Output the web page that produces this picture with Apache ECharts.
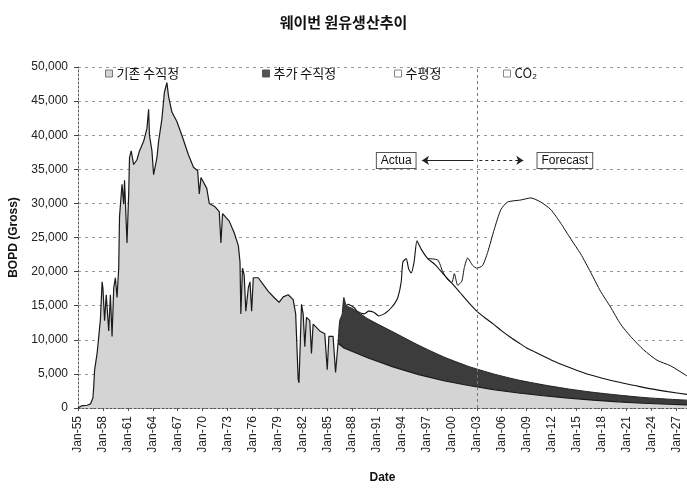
<!DOCTYPE html>
<html><head><meta charset="utf-8">
<script src="https://cdn.jsdelivr.net/npm/echarts/dist/echarts.min.js"></script>
<style>html,body{margin:0;padding:0;background:#fff}#c{width:687px;height:489px}</style>
</head><body><div id="c"></div>
<script>
// ---------- data ----------
const BASE_YEAR = 1955;
const xTickLabels = ['Jan-55','Jan-58','Jan-61','Jan-64','Jan-67','Jan-70','Jan-73','Jan-76','Jan-79',
  'Jan-82','Jan-85','Jan-88','Jan-91','Jan-94','Jan-97','Jan-00','Jan-03','Jan-06','Jan-09',
  'Jan-12','Jan-15','Jan-18','Jan-21','Jan-24','Jan-27'];
const seriesNames = ['기존 수직정', '추가 수직정', '수평정', 'CO₂'];

// 기존 수직정 (existing vertical wells), BOPD
const baseYears = [1955.0,1955.4,1956.1,1956.5,1956.8,1956.9,1957.0,1957.3,1957.5,1957.7,1957.9,1958.0,1958.2,1958.4,1958.7,1958.9,
  1959.1,1959.3,1959.5,1959.7,1959.9,1960.0,1960.3,1960.5,1960.6,1960.9,1961.1,1961.2,1961.4,1961.7,1962.1,1962.4,1962.9,
  1963.3,1963.5,1963.6,1963.9,1964.1,1964.3,1964.5,1964.7,1965.1,1965.4,1965.7,1965.9,1966.3,1966.9,1967.5,1968.3,1968.9,
  1969.4,1969.6,1969.8,1970.5,1970.8,1971.5,1972.0,1972.2,1972.4,1973.2,1973.8,1974.3,1974.5,1974.6,1974.8,1975.0,1975.2,
  1975.5,1975.7,1975.9,1976.1,1976.7,1977.3,1977.9,1978.6,1979.2,1979.7,1980.3,1980.9,1981.2,1981.5,1981.6,1981.9,1982.1,
  1982.3,1982.5,1982.9,1983.1,1983.3,1984.1,1984.7,1985.0,1985.2,1985.7,1986.0,1986.3,1987.0,1990.0,1993.0,1996.0,1999.0,
  2002.0,2005.0,2008.0,2011.0,2014.0,2017.0,2020.0,2023.0,2026.0,2028.3];
const baseValues = [0,300,400,600,1500,3300,5600,8000,10500,13000,18500,17600,12800,16600,11300,16600,
  10500,17600,19100,16200,20500,28100,32800,29900,33400,24200,31400,36700,37700,35700,36400,37700,39100,
  41000,43800,40000,37700,34200,34200,36700,39100,42400,46300,47700,45700,43400,42000,40000,37100,35300,
  34800,31400,33800,32200,30000,29500,28800,24200,28500,27400,25700,23800,21400,13800,20500,19500,14200,
  17600,18500,14200,19100,19100,18100,17100,16200,15500,16300,16600,15900,13800,4200,3700,15200,13800,
  9000,13300,12800,8000,12300,11300,10900,5600,10500,10500,5200,9500,8800,7300,6000,4900,4000,
  3300,2700,2200,1800,1450,1150,900,700,550,450];

// cumulative top: 기존 + 추가 수직정
const infillYears = [1986.3,1986.5,1986.8,1987.0,1987.3,1988.0,1990.0,1993.0,1996.0,1999.0,2002.0,2005.0,2008.0,
  2011.0,2014.0,2017.0,2020.0,2023.0,2026.0,2028.3];
const infillTop = [9500,12800,13800,16200,15000,14600,13000,11100,9200,7500,6100,5000,4100,
  3400,2800,2300,1900,1550,1300,1150];

// cumulative top: 기존 + 추가 + 수평정
const horizYears = [1987.3,1987.5,1988.25,1988.6,1989.45,1990.0,1990.65,1991.2,1991.85,1992.3,1992.7,1993.1,1993.5,
  1993.9,1994.1,1994.5,1994.8,1995.1,1995.45,1995.8,1996.3,1997.1,1998.0,1999.0,2000.0,2001.0,2002.0,2003.0,
  2004.0,2005.0,2006.0,2007.0,2008.0,2009.0,2010.0,2012.0,2014.0,2016.0,2018.0,2020.0,2022.0,2024.0,2026.0,2028.3];
const horizTop = [15000,15200,14700,14200,13800,14200,14000,13500,13800,14200,14700,15300,16200,
  18500,21400,21900,20400,19800,21400,24500,23300,21900,21000,19600,18300,16900,15500,14200,
  13200,12300,11300,10400,9600,8800,8200,7000,6000,5100,4400,3800,3300,2800,2400,2000];

// cumulative top: total incl. CO₂
const co2Years = [1997.1,1998.3,1998.9,1999.5,2000.0,2000.3,2000.7,2001.2,2001.5,2001.9,2002.5,2003.0,2003.7,
  2004.3,2005.1,2005.9,2006.7,2008.3,2009.5,2010.7,2011.9,2013.1,2014.3,2015.5,2016.7,2017.9,2019.1,
  2020.3,2021.5,2023.1,2024.7,2026.3,2028.3];
const co2Top = [21900,21700,20000,18800,18400,19700,18000,18600,20600,22000,20900,20500,20900,
  22800,26200,29100,30200,30500,30800,30200,29100,27100,24800,22600,19900,17100,14800,
  12300,10500,8500,7000,6200,4700];

// annotations
const forecastStartYear = 2003;
const arrowLevel = 36300;
const actualArrow = [2002.6, 1996.4];
const forecastArrow = [2003.3, 2008.6];
const annotationLabels = [{text:'Actua', year:1993.3}, {text:'Forecast', year:2013.6}];

// ---------- chart ----------
const toPairs = (yrs, vals) => yrs.map((y, i) => [y - BASE_YEAR, vals[i]]);
const FONT = "'Liberation Sans', 'Noto Sans CJK KR', Arial, sans-serif";
const KFONT = "'Noto Sans CJK KR', 'Liberation Sans', sans-serif";

const chart = echarts.init(document.getElementById('c'), null, {renderer: 'canvas'});
const legendIcon = [
  {color:'#d4d4d4', borderColor:'#777', borderWidth:1},
  {color:'#555', borderColor:'#555', borderWidth:1},
  {color:'#fff', borderColor:'#888', borderWidth:1},
  {color:'#fff', borderColor:'#888', borderWidth:1}
];
const legendLeft = [100, 257, 389, 498];

const option = {
  animation: false,
  backgroundColor: '#fff',
  title: {
    text: '웨이번 원유생산추이', left: 'center', top: 10,
    textStyle: {fontFamily: KFONT, fontSize: 15, fontWeight: 'bold', color: '#111'}
  },
  legend: seriesNames.map((n, i) => ({
    data: [{name: n, itemStyle: legendIcon[i]}],
    left: legendLeft[i], top: 62, icon: 'rect', itemWidth: 7, itemHeight: 7, itemGap: 5,
    selectedMode: false,
    textStyle: {fontFamily: KFONT, fontSize: 13, color: '#111', padding: [0, 0, 0, -1]}
  })),
  grid: {left: 76, right: 0, top: 67, bottom: 73, containLabel: false},
  xAxis: {
    type: 'value', min: 0, max: 73.3, interval: 3,
    name: 'Date', nameLocation: 'middle', nameGap: 64,
    nameTextStyle: {fontFamily: FONT, fontSize: 12, fontWeight: 'bold', color: '#111'},
    axisLine: {show: true, lineStyle: {color: '#555', width: 1, type: [2, 2]}},
    axisTick: {show: true, length: 3, lineStyle: {color: '#555'}},
    splitLine: {show: false},
    axisLabel: {
      rotate: 90, margin: 8, fontFamily: FONT, fontSize: 12, color: '#222',
      showMaxLabel: false,
      formatter: v => {
        const k = Math.round(v / 3);
        return Math.abs(v - k * 3) < 1e-6 && xTickLabels[k] ? xTickLabels[k] : '';
      }
    }
  },
  yAxis: {
    type: 'value', min: 0, max: 50000, interval: 5000,
    name: 'BOPD (Gross)', nameLocation: 'middle', nameGap: 58, nameRotate: 90,
    nameTextStyle: {fontFamily: FONT, fontSize: 12, fontWeight: 'bold', color: '#111'},
    axisLine: {show: true, lineStyle: {color: '#555', width: 1, type: [2, 2]}},
    axisTick: {show: true, length: 4, lineStyle: {color: '#444'}},
    splitLine: {show: true, lineStyle: {color: '#999', width: 1, type: [3, 4]}},
    axisLabel: {
      margin: 10, fontFamily: FONT, fontSize: 12, color: '#222',
      formatter: v => String(v).replace(/\B(?=(\d{3})+(?!\d))/g, ',')
    }
  },
  series: [
    {
      name: seriesNames[3], type: 'line', data: toPairs(co2Years, co2Top),
      showSymbol: false, symbol: 'none', smooth: 0.2, color: '#fff',
      lineStyle: {color: '#111', width: 1},
      areaStyle: {color: '#fff', opacity: 1},
      markLine: {
        silent: true, symbol: ['none', 'arrow'], symbolSize: 7,
        label: {show: false},
        lineStyle: {color: '#222', width: 1, type: 'solid'},
        data: [
          [{coord: [actualArrow[0] - BASE_YEAR, arrowLevel]}, {coord: [actualArrow[1] - BASE_YEAR, arrowLevel]}],
          [{coord: [forecastArrow[0] - BASE_YEAR, arrowLevel], lineStyle: {type: [3, 3]}},
           {coord: [forecastArrow[1] - BASE_YEAR, arrowLevel], lineStyle: {type: [3, 3]}}]
        ]
      },
      markPoint: {
        silent: true, symbol: 'rect', symbolSize: 1,
        itemStyle: {color: 'rgba(0,0,0,0)'},
        label: {
          show: true, position: 'inside', formatter: p => p.name,
          fontFamily: FONT, fontSize: 12, color: '#111',
          backgroundColor: '#fff', borderColor: '#555', borderWidth: 1, padding: [2, 4, 1, 4]
        },
        data: annotationLabels.map(a => ({name: a.text, coord: [a.year - BASE_YEAR, arrowLevel]}))
      }
    },
    {
      name: seriesNames[2], type: 'line', data: toPairs(horizYears, horizTop),
      showSymbol: false, symbol: 'none', smooth: 0.2, color: '#fff',
      lineStyle: {color: '#111', width: 1.1},
      areaStyle: {color: '#fff', opacity: 1}
    },
    {
      name: seriesNames[1], type: 'line', data: toPairs(infillYears, infillTop),
      showSymbol: false, symbol: 'none', smooth: 0.2, color: '#555',
      lineStyle: {color: '#222', width: 1},
      areaStyle: {color: '#3c3c3c', opacity: 1}
    },
    {
      name: seriesNames[0], type: 'line', data: toPairs(baseYears, baseValues),
      showSymbol: false, symbol: 'none', color: '#d4d4d4',
      lineStyle: {color: '#1a1a1a', width: 1.2},
      areaStyle: {color: '#d4d4d4', opacity: 1},
      markLine: {
        silent: true, symbol: 'none', label: {show: false},
        lineStyle: {color: '#777', width: 1, type: [3, 3]},
        data: [{xAxis: forecastStartYear - BASE_YEAR}]
      }
    }
  ]
};
chart.setOption(option);
</script>
</body></html>
